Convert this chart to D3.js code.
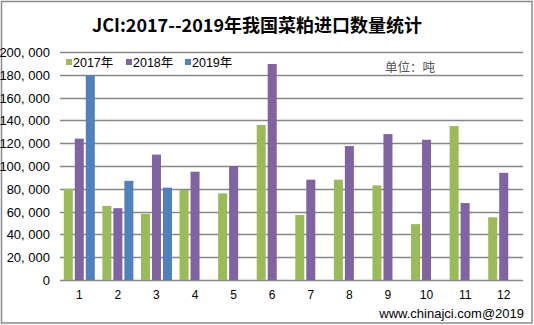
<!DOCTYPE html>
<html>
<head>
<meta charset="utf-8">
<script src="https://cdn.jsdelivr.net/npm/d3@7"></script>
<style>
  html, body { margin: 0; padding: 0; background: #fff; }
  svg { display: block; }
</style>
</head>
<body>
<svg id="chart" width="534" height="325"></svg>
<script>
// Monthly rapeseed meal imports (tonnes)
const months = ["1", "2", "3", "4", "5", "6", "7", "8", "9", "10", "11", "12"];
const seriesNames = ["2017年", "2018年", "2019年"];
const values2017 = [80000, 65000, 58000, 79000, 76000, 136000, 57000, 88000, 83000, 49000, 135000, 55000];
const values2018 = [124000, 63000, 110000, 95000, 100000, 189500, 88000, 117500, 128000, 123000, 67500, 94000];
const values2019 = [179500, 87000, 81000, null, null, null, null, null, null, null, null, null];
const yTicks = [0, 20000, 40000, 60000, 80000, 100000, 120000, 140000, 160000, 180000, 200000];
const colors = ["#9BBB59", "#8064A2", "#4F81BD"];

const allSeries = [values2017, values2018, values2019];

const svg = d3.select("#chart");
const W = 534, H = 325;
const plot = { left: 60, right: 523, top: 52, bottom: 280 };

// outer frame
svg.append("rect")
  .attr("x", 1.5).attr("y", 1.5)
  .attr("width", W - 3.5).attr("height", H - 3.5)
  .attr("fill", "#fff").attr("stroke", "#8a8a8a").attr("stroke-width", 1.5);

// title
svg.append("text")
  .attr("x", 257).attr("y", 32)
  .attr("text-anchor", "middle")
  .attr("font-family", "'Noto Sans CJK SC', 'Liberation Sans', sans-serif")
  .attr("font-weight", "bold")
  .attr("font-size", 18)
  .attr("fill", "#000")
  .text("JCI:2017--2019年我国菜粕进口数量统计");

const x = d3.scaleBand().domain(months).range([plot.left, plot.right]).paddingInner(0).paddingOuter(0);
const inner = d3.scaleBand().domain(d3.range(3)).range([0, x.bandwidth()]).paddingInner(0.18).paddingOuter(0.345);
const y = d3.scaleLinear().domain([0, 200000]).range([plot.bottom, plot.top]);

// gridlines
svg.append("g").selectAll("line").data(yTicks).join("line")
  .attr("x1", plot.left).attr("x2", plot.right)
  .attr("y1", d => Math.round(y(d)) + 0.5).attr("y2", d => Math.round(y(d)) + 0.5)
  .attr("stroke", "#878787").attr("stroke-width", 1.4);

// y axis labels
const yAxis = d3.axisLeft(y).tickValues(yTicks).tickSize(0).tickPadding(10)
  .tickFormat(d3.format(","));
const gy = svg.append("g").attr("transform", `translate(${plot.left},0)`).call(yAxis);
gy.select(".domain").remove();
gy.selectAll("text")
  .attr("font-family", "'Liberation Sans', Arial, sans-serif")
  .attr("font-size", 13).attr("fill", "#000")
  .text(d => d3.format(",")(d).replace(",", ", "))
  .attr("dy", "0.35em");

// bars
const barG = svg.append("g");
allSeries.forEach((vals, si) => {
  barG.append("g").selectAll("rect")
    .data(vals.map((v, i) => ({ m: months[i], v })).filter(d => d.v != null))
    .join("rect")
    .attr("x", d => x(d.m) + inner(si))
    .attr("width", inner.bandwidth())
    .attr("y", d => y(d.v))
    .attr("height", d => y(0) - y(d.v))
    .attr("fill", colors[si]);
});

// x axis labels
const xAxis = d3.axisBottom(x).tickSize(0).tickPadding(10);
const gx = svg.append("g").attr("transform", `translate(0,${plot.bottom})`).call(xAxis);
gx.select(".domain").remove();
gx.selectAll("text")
  .attr("font-family", "'Liberation Sans', Arial, sans-serif")
  .attr("font-size", 12).attr("fill", "#000");

// legend
const legend = svg.append("g");
const legendX = [66, 126, 185];
seriesNames.forEach((name, i) => {
  legend.append("rect")
    .attr("x", legendX[i]).attr("y", 59)
    .attr("width", 6).attr("height", 6)
    .attr("fill", colors[i]);
  legend.append("text")
    .attr("x", legendX[i] + 7).attr("y", 67)
    .attr("font-family", "'Liberation Sans', 'Noto Sans CJK SC', sans-serif")
    .attr("font-size", 12.5).attr("fill", "#000")
    .text(name);
});

// unit note
svg.append("text")
  .attr("x", 385).attr("y", 72)
  .attr("font-family", "'Noto Sans CJK SC', sans-serif")
  .attr("font-size", 12.5).attr("fill", "#555")
  .text("单位：吨");

// source note
svg.append("text")
  .attr("x", 524).attr("y", 318)
  .attr("text-anchor", "end")
  .attr("font-family", "'Liberation Sans', Arial, sans-serif")
  .attr("font-size", 13).attr("fill", "#000")
  .text("www.chinajci.com@2019");
</script>
</body>
</html>
